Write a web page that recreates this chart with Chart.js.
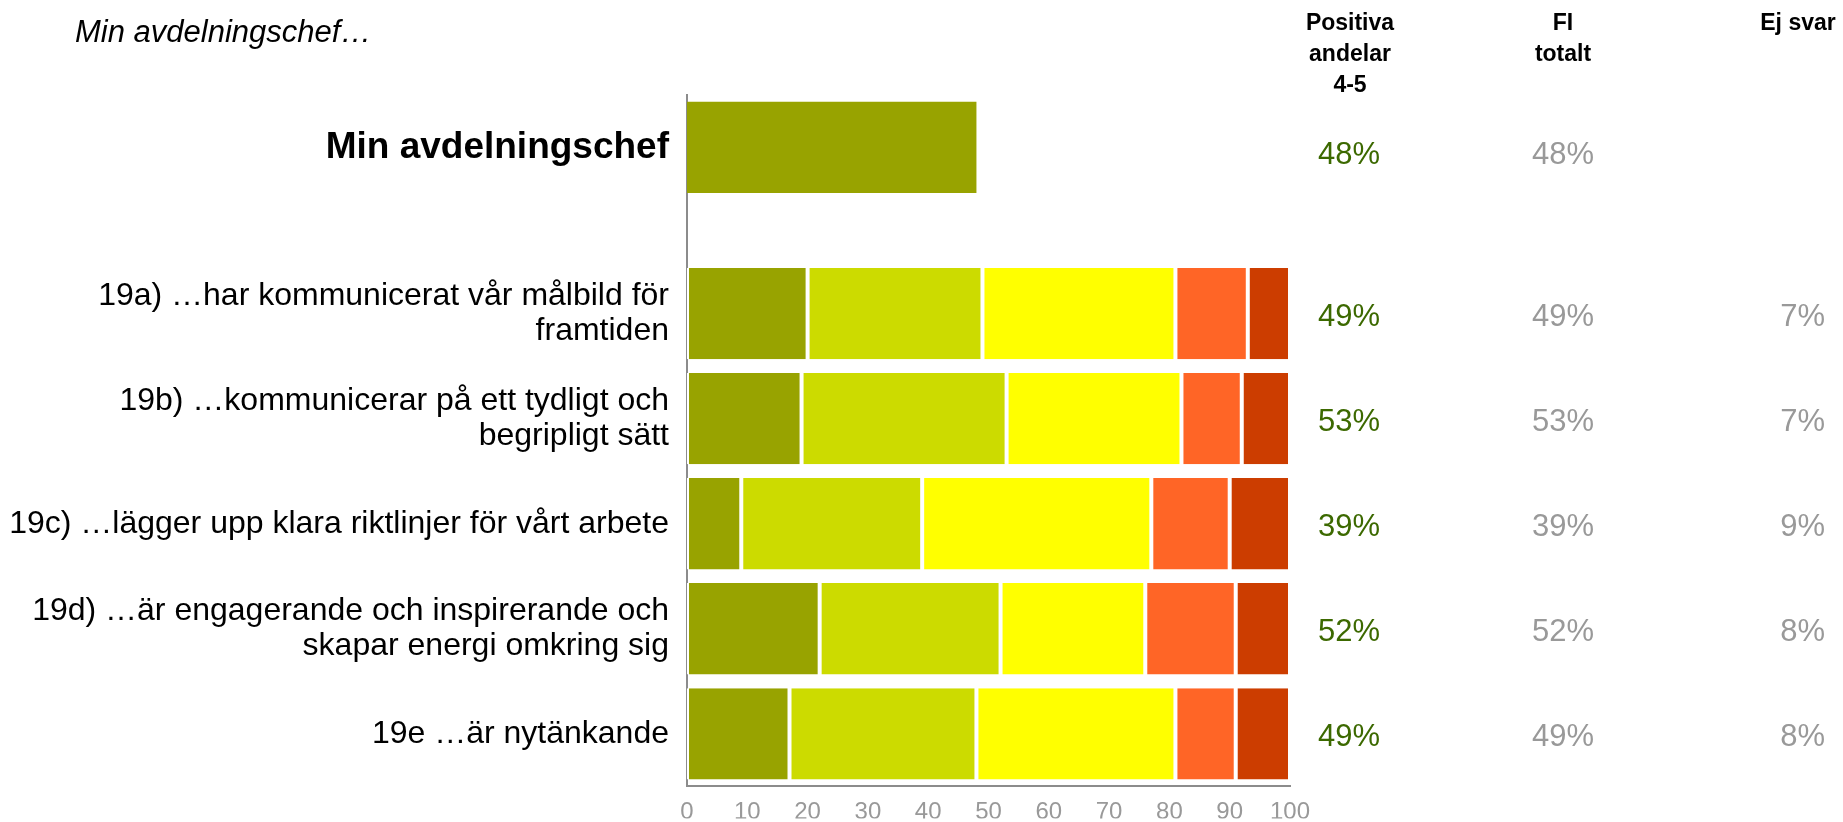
<!DOCTYPE html>
<html>
<head>
<meta charset="utf-8">
<script src="https://cdn.jsdelivr.net/npm/chart.js@4"></script>
<style>
  body { margin: 0; background: #fff; font-family: "Liberation Sans", Arial, sans-serif; }
  #wrap { position: relative; width: 1843px; height: 822px; overflow: hidden; }
  canvas { position: absolute; left: 0; top: 0; }
  .title { position: absolute; left: 75px; top: 13px; font-size: 31px; line-height: 38px; font-style: italic; color: #000; }
  .head { position: absolute; top: 7px; font-size: 23px; line-height: 31px; font-weight: bold; text-align: center; width: 160px; color: #000; }
</style>
</head>
<body>
<div id="wrap">
  <canvas id="rows" width="1843" height="822"></canvas>
  <canvas id="index" width="1843" height="240"></canvas>
  <div class="title">Min avdelningschef…</div>
  <div class="head" style="left:1270px">Positiva<br>andelar<br>4-5</div>
  <div class="head" style="left:1483px">FI<br>totalt</div>
  <div class="head" style="left:1718px">Ej svar</div>
</div>
<script>
// index row
const indexLabel = 'Min avdelningschef';
const indexValue = 48;
const indexPositive = [48];
const indexFI = [48];

// questions
const questions = [
  ['19a) …har kommunicerat vår målbild för', 'framtiden'],
  ['19b) …kommunicerar på ett tydligt och', 'begripligt sätt'],
  '19c) …lägger upp klara riktlinjer för vårt arbete',
  ['19d) …är engagerande och inspirerande och', 'skapar energi omkring sig'],
  '19e …är nytänkande'
];
const grade5 = [20, 19, 9, 22, 17];
const grade4 = [29, 34, 30, 30, 31];
const grade3 = [32, 29, 38, 24, 33];
const grade2 = [12, 10, 13, 15, 10];
const grade1 = [7, 8, 10, 9, 9];
const positive = [49, 53, 39, 52, 49];
const fiTotal = [49, 53, 39, 52, 49];
const noAnswer = [7, 7, 9, 8, 8];
const xTicks = [0, 10, 20, 30, 40, 50, 60, 70, 80, 90, 100];

const FONT = '"Liberation Sans", Arial, sans-serif';
const colors = ['#98a300', '#ccdb00', '#ffff00', '#ff6526', '#cc3d00'];
const AXIS = '#8c8c8c';

// columns to the right of the bars, y taken from the category scale
const valueColumns = {
  id: 'valueColumns',
  afterDraw(chart, args, opts) {
    const {ctx, scales: {y}} = chart;
    ctx.save();
    ctx.font = `31px ${FONT}`;
    ctx.textBaseline = 'middle';
    opts.positive.forEach((v, i) => {
      const py = y.getPixelForValue(i + opts.first) + opts.dy;
      ctx.textAlign = 'center';
      ctx.fillStyle = '#3c6900';
      ctx.fillText(v + '%', 1349, py);
      ctx.fillStyle = '#999';
      ctx.fillText(opts.fi[i] + '%', 1563, py);
      if (opts.none) {
        ctx.textAlign = 'right';
        ctx.fillText(opts.none[i] + '%', 1825, py);
      }
    });
    ctx.restore();
  }
};

const withSpacer = arr => [null, ...arr];

new Chart(document.getElementById('rows'), {
  type: 'bar',
  data: {
    labels: ['', ...questions],
    datasets: [grade5, grade4, grade3, grade2, grade1].map((d, i) => ({
      data: withSpacer(d),
      backgroundColor: colors[i],
      borderColor: '#fff',
      borderWidth: {left: 2, right: 2, top: 0, bottom: 0},
      borderSkipped: false,
      barPercentage: 0.87,
      categoryPercentage: 1
    }))
  },
  options: {
    indexAxis: 'y',
    responsive: false,
    animation: false,
    layout: {padding: {top: 156, right: 553, left: 0, bottom: 0}},
    scales: {
      x: {
        stacked: true, min: 0, max: 100,
        afterFit: s => { s.height = 32; },
        afterBuildTicks: s => { s.ticks = xTicks.map(v => ({value: v})); },
        grid: {display: false, drawTicks: false},
        border: {display: true, color: AXIS, width: 2},
        ticks: {color: '#999', font: {family: FONT, size: 24}, padding: 12, autoSkip: false, maxRotation: 0}
      },
      y: {
        stacked: true,
        afterFit: s => { s.width = 687; },
        grid: {display: false, drawTicks: false},
        border: {display: true, color: AXIS, width: 2},
        ticks: {color: '#000', font: {family: FONT, size: 32, lineHeight: 1.1}, padding: 18, autoSkip: false}
      }
    },
    plugins: {
      legend: {display: false},
      tooltip: {enabled: false},
      valueColumns: {positive: positive, fi: fiTotal, none: noAnswer, first: 1, dy: 4}
    }
  },
  plugins: [valueColumns]
});

new Chart(document.getElementById('index'), {
  type: 'bar',
  data: {
    labels: [indexLabel],
    datasets: [{
      data: [indexValue],
      backgroundColor: colors[0],
      borderWidth: 0,
      barPercentage: 0.87,
      categoryPercentage: 1
    }]
  },
  options: {
    indexAxis: 'y',
    responsive: false,
    animation: false,
    layout: {padding: {top: 95, right: 553, left: 0, bottom: 36}},
    scales: {
      x: {display: false, min: 0, max: 100},
      y: {
        afterFit: s => { s.width = 687; },
        grid: {display: false, drawTicks: false},
        border: {display: true, color: AXIS, width: 2},
        ticks: {color: '#000', font: {family: FONT, size: 37, weight: 'bold'}, padding: 18}
      }
    },
    plugins: {
      legend: {display: false},
      tooltip: {enabled: false},
      valueColumns: {positive: indexPositive, fi: indexFI, first: 0, dy: 8}
    }
  },
  plugins: [valueColumns]
});
</script>
</body>
</html>
